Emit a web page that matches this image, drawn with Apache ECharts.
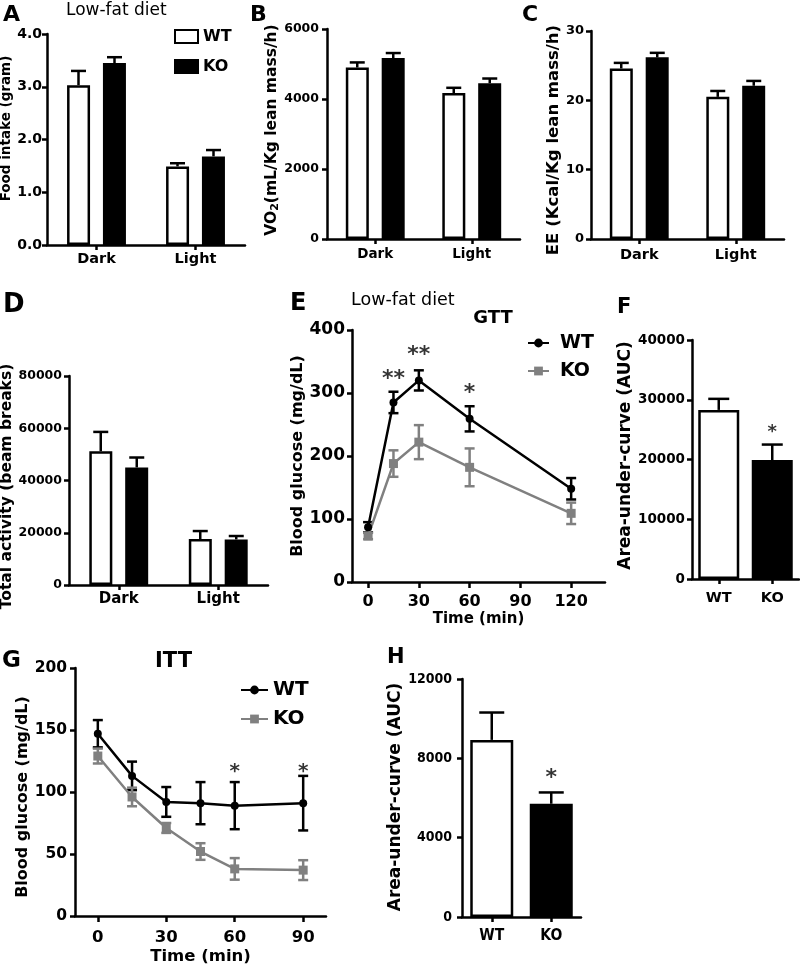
<!DOCTYPE html>
<html><head><meta charset="utf-8">
<script src="https://cdn.jsdelivr.net/npm/echarts@6/dist/echarts.min.js"></script>
<style>html,body{margin:0;padding:0;background:#fff}#c{width:800px;height:971px}</style>
</head><body><div id="c"></div>
<script>
// ---------- DATA ----------
const periods = ['Dark', 'Light'];
const genotypes = ['WT', 'KO'];

const foodWT = [3.03, 1.49], foodWTErr = [0.27, 0.06];
const foodKO = [3.45, 1.68], foodKOErr = [0.11, 0.12];

const vo2WT = [4900, 4170], vo2WTErr = [145, 150];
const vo2KO = [5170, 4450], vo2KOErr = [143, 135];

const eeWT = [24.6, 20.5], eeWTErr = [0.8, 0.85];
const eeKO = [26.2, 22.1], eeKOErr = [0.65, 0.7];

const actWT = [51200, 17600], actWTErr = [7400, 3050];
const actKO = [45000, 17450], actKOErr = [3800, 1300];

const gttTime = [0, 15, 30, 60, 120];
const gttTicks = [0, 30, 60, 90, 120];
const gttWT = [87, 285, 320, 259, 148], gttWTErr = [8, 17, 16, 20, 17];
const gttKO = [73, 188, 222, 182, 109], gttKOErr = [5, 21, 27, 30, 17];
const gttStars = [[15, 322, '**'], [30, 360, '**'], [60, 300, '*']];

const gttAUC = [28300, 19900], gttAUCErr = [1850, 2600];
const gttAUCStars = [[1, 24500, '*']];

const ittTime = [0, 15, 30, 45, 60, 90];
const ittTicks = [0, 30, 60, 90];
const ittWT = [147, 113, 92, 91, 89, 91], ittWTErr = [11, 11.5, 12, 17, 19, 22];
const ittKO = [129, 96, 71, 52, 38, 37], ittKOErr = [6, 7.5, 4, 6.7, 8.7, 8];
const ittStars = [[60, 116, '*'], [90, 116, '*']];

const ittAUC = [8930, 5710], ittAUCErr = [1380, 570];
const ittAUCStars = [[1, 7000, '*']];

// ---------- STYLE HELPERS ----------
const DV = "'DejaVu Sans', sans-serif";
const NAR = "'Liberation Sans Narrow', 'DejaVu Sans Condensed', 'Liberation Sans', sans-serif";
const LW = 2.5;
const GRAY = '#808080';

const axLine = () => ({show: true, onZero: false, lineStyle: {color: '#000', width: LW}});
const tick = (len) => ({show: true, length: len, lineStyle: {color: '#000', width: LW}});
const lbl = (fam, size, margin, extra) => Object.assign({show: true, color: '#000', fontFamily: fam, fontWeight: 'bold', fontSize: size, margin: margin}, extra || {});

function yAx(gi, max, interval, lab, name, nameSize, nameGap, shift, rich) {
  const pad = shift > 0 ? [0, 0, 0, 2 * shift] : [0, -2 * shift, 0, 0];
  const nts = {color: '#000', fontFamily: DV, fontWeight: 'bold', fontSize: nameSize, padding: pad};
  if (rich) nts.rich = rich;
  return {type: 'value', gridIndex: gi, min: 0, max: max, interval: interval,
    axisLine: axLine(), axisTick: tick(5), splitLine: {show: false},
    axisLabel: Object.assign({formatter: v => String(v)}, lab),
    name: name, nameLocation: 'middle', nameGap: nameGap, nameRotate: 90, nameTextStyle: nts};
}
function xCat(gi, cats, lab) {
  return {type: 'category', gridIndex: gi, data: cats, axisLine: axLine(),
    axisTick: Object.assign(tick(5), {alignWithLabel: true}), axisLabel: lab, splitLine: {show: false}};
}
function xVal(gi, min, max, ticks, lab, name, nameSize, nameGap) {
  return {type: 'value', gridIndex: gi, min: min, max: max, axisLine: axLine(),
    axisTick: Object.assign(tick(6), {customValues: ticks}),
    axisLabel: Object.assign(lab, {customValues: ticks, formatter: v => String(v)}),
    splitLine: {show: false},
    name: name, nameLocation: 'middle', nameGap: nameGap,
    nameTextStyle: {color: '#000', fontFamily: DV, fontWeight: 'bold', fontSize: nameSize}};
}

function errRender(offset, capW, color, both) {
  return function (params, api) {
    const x = api.value(0), m = api.value(1), e = api.value(2);
    const pTop = api.coord([x, m + e]);
    const pMid = api.coord([x, m]);
    const pBot = api.coord([x, both ? m - e : m]);
    const cx = pMid[0] + offset;
    const st = {stroke: color, lineWidth: LW};
    const ch = [
      {type: 'line', shape: {x1: cx, y1: pBot[1], x2: cx, y2: pTop[1]}, style: st},
      {type: 'line', shape: {x1: cx - capW / 2, y1: pTop[1], x2: cx + capW / 2, y2: pTop[1]}, style: st}
    ];
    if (both) ch.push({type: 'line', shape: {x1: cx - capW / 2, y1: pBot[1], x2: cx + capW / 2, y2: pBot[1]}, style: st});
    return {type: 'group', children: ch};
  };
}
function errSeries(gi, xs, means, errs, offset, capW, color, both) {
  return {type: 'custom', xAxisIndex: gi, yAxisIndex: gi, silent: true, z: 5,
    data: means.map((m, i) => [xs[i], m, errs[i]]),
    encode: {x: 0, y: 1}, renderItem: errRender(offset, capW, color, both)};
}
function barS(gi, name, vals, fill) {
  return {type: 'bar', name: name, xAxisIndex: gi, yAxisIndex: gi, data: vals,
    barWidth: 23, barGap: '56%', silent: true,
    itemStyle: {color: fill, borderColor: '#000', borderWidth: LW}};
}
function aucBar(gi, vals, w) {
  return {type: 'bar', name: 'AUC|' + gi, xAxisIndex: gi, yAxisIndex: gi, barWidth: w, silent: true,
    data: vals.map((v, i) => ({value: v, itemStyle: {color: i === 0 ? '#fff' : '#000'}})),
    itemStyle: {borderColor: '#000', borderWidth: LW}};
}
function lineS(gi, name, xs, ys, color, symbol, size) {
  return {type: 'line', name: name, xAxisIndex: gi, yAxisIndex: gi, z: 6, silent: true,
    data: xs.map((t, i) => [t, ys[i]]), symbol: symbol, symbolSize: size, showSymbol: true,
    lineStyle: {color: color, width: LW}, itemStyle: {color: color}};
}
function starS(gi, stars, size) {
  return {type: 'scatter', xAxisIndex: gi, yAxisIndex: gi, silent: true, symbolSize: 1, z: 7,
    itemStyle: {color: 'rgba(0,0,0,0)'},
    data: stars.map(s => ({value: [s[0], s[1]], name: s[2]})),
    label: {show: true, position: 'inside', formatter: '{b}', color: '#000', fontFamily: DV, fontWeight: 'bold', fontSize: size}};
}
const idx = [0, 1];
const OFF = 18, CAP = 15;

const grids = [
  {left: 47, top: 34, width: 198, height: 211},   // A
  {left: 327, top: 29, width: 193, height: 210},  // B
  {left: 591, top: 31, width: 193, height: 208},  // C
  {left: 69, top: 376, width: 199, height: 209},  // D
  {left: 352, top: 330, width: 253, height: 252}, // E
  {left: 692, top: 340, width: 107, height: 239}, // F
  {left: 75, top: 668, width: 251, height: 248},  // G
  {left: 462, top: 679, width: 119, height: 238}  // H
].map(g => Object.assign(g, {containLabel: false, outerBoundsMode: 'none'}));

const xAxes = [
  xCat(0, periods, lbl(DV, 14.5, 7)),
  xCat(1, periods, lbl(DV, 13.5, 8)),
  xCat(2, periods, lbl(DV, 14.5, 9)),
  xCat(3, periods, lbl(DV, 15, 7)),
  xVal(4, -9.5, 140, gttTicks, lbl(DV, 16, 12), 'Time (min)', 15, 30),
  xCat(5, genotypes, lbl(DV, 14.5, 12)),
  xVal(6, -10, 100, ittTicks, lbl(DV, 16.5, 13), 'Time (min)', 16.5, 32),
  xCat(7, genotypes, lbl(NAR, 15.5, 11))
];
const yAxes = [
  yAx(0, 4, 1, lbl(DV, 14, 5, {formatter: v => v.toFixed(1)}), 'Food intake (gram)', 13.5, 30, 11),
  yAx(1, 6000, 2000, lbl(DV, 12.5, 8), '{a|VO}{s|2}{a|(mL/Kg lean mass/h)}', 15.5, 42, 4,
      {a: {fontFamily: DV, fontWeight: 'bold', fontSize: 15.5, color: '#000'},
       s: {fontFamily: DV, fontWeight: 'bold', fontSize: 11, color: '#000', verticalAlign: 'bottom'}}),
  yAx(2, 30, 10, lbl(DV, 13, 7), 'EE (Kcal/Kg lean mass/h)', 16.5, 28, -5),
  yAx(3, 80000, 20000, lbl(DV, 12.5, 7), 'Total activity (beam breaks)', 15.5, 49, -6),
  yAx(4, 400, 100, lbl(DV, 17, 7), 'Blood glucose (mg/dL)', 16, 45, 0),
  yAx(5, 40000, 10000, lbl(DV, 13.5, 7), 'Area-under-curve (AUC)', 17, 55, 4),
  yAx(6, 200, 50, lbl(DV, 15.5, 8), 'Blood glucose (mg/dL)', 16, 42, -5),
  yAx(7, 12000, 4000, lbl(NAR, 14, 10), 'Area-under-curve (AUC)', 17, 47, 1)
];

const series = [
  barS(0, 'WT', foodWT, '#fff'), barS(0, 'KO', foodKO, '#000'),
  errSeries(0, idx, foodWT, foodWTErr, -OFF, CAP, '#000', false),
  errSeries(0, idx, foodKO, foodKOErr, OFF, CAP, '#000', false),

  barS(1, 'WT|B', vo2WT, '#fff'), barS(1, 'KO|B', vo2KO, '#000'),
  errSeries(1, idx, vo2WT, vo2WTErr, -OFF, CAP, '#000', false),
  errSeries(1, idx, vo2KO, vo2KOErr, OFF, CAP, '#000', false),

  barS(2, 'WT|C', eeWT, '#fff'), barS(2, 'KO|C', eeKO, '#000'),
  errSeries(2, idx, eeWT, eeWTErr, -OFF, CAP, '#000', false),
  errSeries(2, idx, eeKO, eeKOErr, OFF, CAP, '#000', false),

  barS(3, 'WT|D', actWT, '#fff'), barS(3, 'KO|D', actKO, '#000'),
  errSeries(3, idx, actWT, actWTErr, -OFF, CAP, '#000', false),
  errSeries(3, idx, actKO, actKOErr, OFF, CAP, '#000', false),

  lineS(4, 'WT|E', gttTime, gttWT, '#000', 'circle', 8),
  lineS(4, 'KO|E', gttTime, gttKO, GRAY, 'rect', 9),
  errSeries(4, gttTime, gttWT, gttWTErr, 0, 10, '#000', true),
  errSeries(4, gttTime, gttKO, gttKOErr, 0, 10, GRAY, true),
  starS(4, gttStars, 22),

  aucBar(5, gttAUC, 41),
  errSeries(5, idx, gttAUC, gttAUCErr, 0, 21, '#000', false),
  starS(5, gttAUCStars, 18),

  lineS(6, 'WT|G', ittTime, ittWT, '#000', 'circle', 8),
  lineS(6, 'KO|G', ittTime, ittKO, GRAY, 'rect', 9),
  errSeries(6, ittTime, ittWT, ittWTErr, 0, 10, '#000', true),
  errSeries(6, ittTime, ittKO, ittKOErr, 0, 10, GRAY, true),
  starS(6, ittStars, 20),

  aucBar(7, ittAUC, 43),
  errSeries(7, idx, ittAUC, ittAUCErr, 0, 25, '#000', false),
  starS(7, ittAUCStars, 22)
];

const fmt = n => n.split('|')[0];
const legends = [
  {left: 174, top: 28.5, orient: 'vertical', padding: 0, itemGap: 14, itemWidth: 23, itemHeight: 13, icon: 'rect',
   selectedMode: false, formatter: fmt,
   data: [{name: 'WT', itemStyle: {color: '#fff', borderColor: '#000', borderWidth: 2}},
          {name: 'KO', itemStyle: {color: '#000', borderColor: '#000', borderWidth: 2}}],
   textStyle: {fontFamily: DV, fontWeight: 'bold', fontSize: 16, lineHeight: 16, color: '#000'}},
  {left: 527, top: 333, orient: 'vertical', padding: 0, itemGap: 8, itemWidth: 21, itemHeight: 11,
   selectedMode: false, formatter: fmt, data: ['WT|E', 'KO|E'],
   textStyle: {fontFamily: DV, fontWeight: 'bold', fontSize: 19, lineHeight: 20, color: '#000', padding: [0, 0, 0, 6]}},
  {left: 240, top: 680, orient: 'vertical', padding: 0, itemGap: 9, itemWidth: 27, itemHeight: 11,
   selectedMode: false, formatter: fmt, data: ['WT|G', 'KO|G'],
   textStyle: {fontFamily: DV, fontWeight: 'bold', fontSize: 20, lineHeight: 20, color: '#000'}}
];

function txt(s, x, y, size, weight, align) {
  return {type: 'text', x: x, y: y, silent: true,
    style: {text: s, fill: '#000', font: (weight || 'bold') + ' ' + size + "px 'DejaVu Sans'", align: align || 'left', verticalAlign: 'middle'}};
}
const graphics = [
  txt('A', 3, 15, 22), txt('B', 250, 15, 22), txt('C', 522, 15, 22),
  txt('D', 3, 305, 26), txt('E', 290, 304, 24), txt('F', 617, 307.5, 21),
  txt('G', 2, 661.5, 23), txt('H', 387, 657.5, 21),
  txt('Low-fat diet', 66, 10.5, 17, 'normal'),
  txt('Low-fat diet', 351, 300.5, 17.5, 'normal'),
  txt('GTT', 493, 318.5, 18, 'bold', 'center'),
  txt('ITT', 173.5, 661.5, 21, 'bold', 'center')
];

const chart = echarts.init(document.getElementById('c'), null, {renderer: 'canvas'});
chart.setOption({
  animation: false,
  backgroundColor: '#fff',
  grid: grids, xAxis: xAxes, yAxis: yAxes, series: series,
  legend: legends, graphic: graphics
});
</script></body></html>
